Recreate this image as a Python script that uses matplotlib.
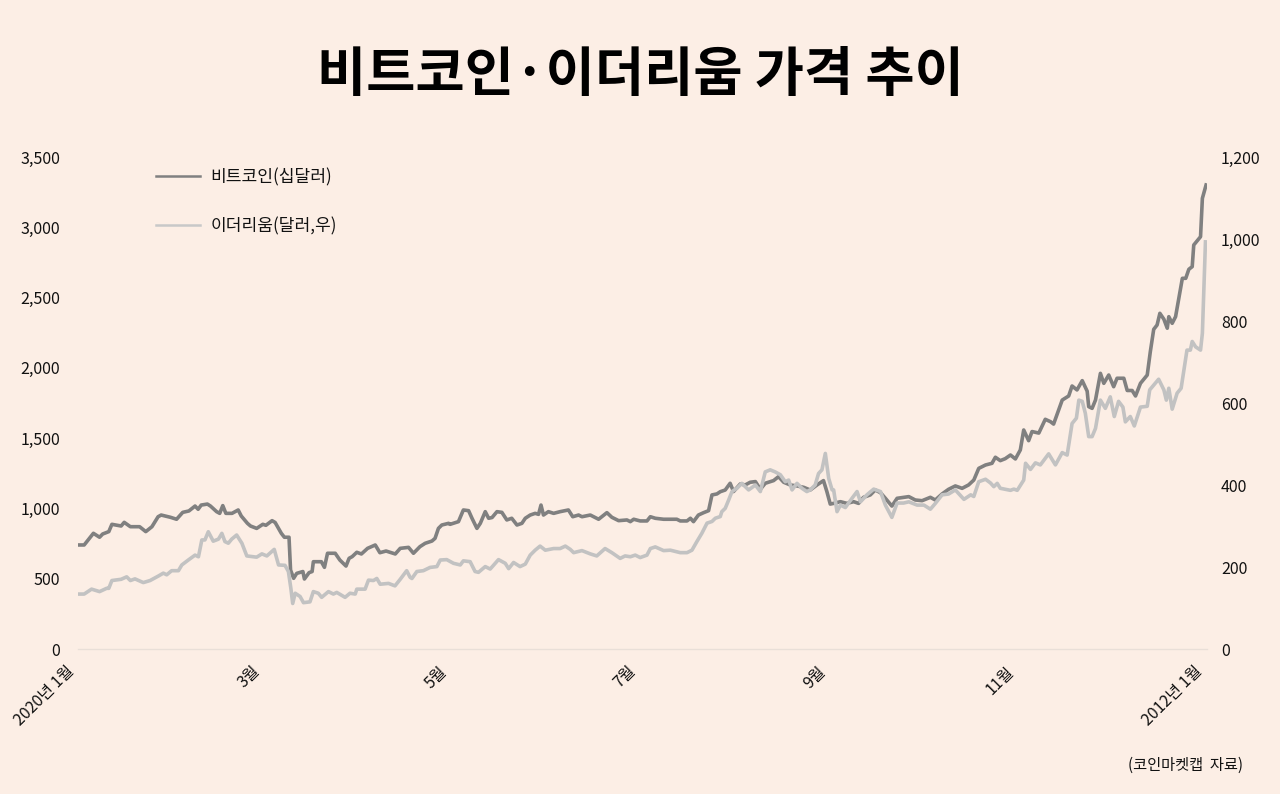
import matplotlib
matplotlib.use("Agg")
import matplotlib.pyplot as plt
from matplotlib.lines import Line2D
from matplotlib.ticker import FuncFormatter, FixedLocator

plt.rcParams['font.family'] = ['Noto Sans CJK KR', 'DejaVu Sans']

# ---------------- data (day offset from 2020-01-01, value) ----------------
btc_days = [0, 2, 5, 7, 8, 10, 11, 14, 15, 17, 20, 22, 24, 26, 27, 30, 32, 34, 36, 38,
            39, 40, 42, 43, 45, 46, 47, 48, 50, 52, 53, 55, 56, 58, 60, 61, 63, 64, 66, 67,
            68.5, 69, 70, 71, 73, 73.5, 75, 76, 76.4, 79, 80, 81, 83.5, 85, 87, 88, 89, 90.5, 92, 94,
            96.5, 98, 100, 103, 104.6, 107.3, 108.9, 111, 112.7, 114.9, 115.9, 117, 118.1, 120.3, 120.8, 123.5, 125.1, 126.8, 127.9, 129.5,
            130.6, 132.2, 133.3, 134.4, 136, 137.6, 139.2, 140.8, 142.5, 144.1, 145.2, 146.8, 148.4, 149.5, 150.3, 151.1, 152.7, 154.4, 156.5, 159.2,
            160.6, 162.5, 163.6, 166.3, 169, 171.7, 173.3, 175.5, 178.2, 179.3, 180.4, 182.5, 184.7, 185.8, 187.4, 190.1, 194.4, 195.5, 197.7, 198.8,
            199.8, 201.4, 203.1, 204.7, 205.8, 207.4, 208.5, 210.1, 211.7, 212.8, 215, 216.6, 218.2, 219.9, 221.5, 223.1, 225.8, 227.4, 229.1, 231.2,
            233.4, 235.6, 237.7, 239.9, 242, 243.1, 244.2, 245.3, 247.5, 249.6, 251.8, 253.4, 255, 257.2, 258.8, 260.5, 262.1, 264.2, 265.9, 268,
            269.7, 271.8, 274, 276.7, 278.3, 280.5, 282.6, 284.8, 287, 289.1, 290.8, 292.4, 294.6, 296.7, 297.8, 299.4, 301, 302.7, 304.3, 305.9,
            307, 308.6, 309.7, 311.9, 314, 315.7, 316.7, 319.5, 321.6, 322.7, 324.3, 326, 327.6, 328.1, 329.2, 330.3, 331.9, 333, 334.6, 336.2,
            337.3, 339.5, 340.6, 342.2, 343.3, 344.9, 347.1, 348.1, 349.2, 350.3, 351.2, 352.5, 353.6, 354.1, 355.2, 356.3, 358.5, 359.6, 360.6, 361.7,
            362.2, 364.4, 365, 366.2]
btc_vals = [740, 740, 823, 795, 818, 835, 887, 875, 901, 870, 870, 835, 870, 941, 953, 937, 923, 972, 982, 1017,
            994, 1024, 1031, 1017, 977, 965, 1020, 965, 965, 989, 946, 894, 875, 858, 887, 880, 913, 900, 823, 795,
            795, 562, 503, 538, 551, 498, 543, 551, 621, 621, 581, 681, 681, 633, 590, 645, 657, 688, 676, 716,
            740, 685, 697, 676, 716, 723, 681, 728, 752, 768, 787, 858, 882, 894, 887, 906, 989, 984, 930, 858,
            894, 977, 930, 935, 977, 972, 918, 930, 882, 894, 930, 953, 965, 958, 1024, 953, 977, 965, 977, 989,
            941, 953, 941, 953, 923, 970, 937, 913, 918, 906, 923, 911, 911, 941, 930, 923, 923, 911, 911, 930,
            906, 953, 970, 984, 1096, 1103, 1119, 1131, 1179, 1120, 1174, 1167, 1186, 1191, 1136, 1179, 1198, 1226, 1186, 1167,
            1160, 1150, 1131, 1167, 1198, 1120, 1031, 1036, 1048, 1036, 1048, 1036, 1079, 1096, 1131, 1112, 1072, 1017, 1072, 1079,
            1084, 1060, 1055, 1079, 1060, 1103, 1136, 1160, 1143, 1167, 1202, 1285, 1309, 1321, 1364, 1340, 1354, 1380, 1352, 1416,
            1558, 1482, 1547, 1536, 1634, 1617, 1600, 1771, 1800, 1871, 1843, 1909, 1834, 1724, 1712, 1771, 1961, 1890, 1949, 1866,
            1926, 1926, 1839, 1839, 1800, 1890, 1949, 2115, 2274, 2305, 2388, 2346, 2282, 2364, 2317, 2364, 2637, 2637, 2701, 2720,
            2874, 2933, 3206, 3301]

eth_days = [0, 2, 4.4, 7, 9.3, 10, 11, 14, 15.8, 17, 18.5, 21.2, 23.4, 26.1, 27.7, 28.8, 30.4, 32.6, 33.7, 35.8,
            38, 39.1, 40.2, 41.2, 42.3, 43.9, 45.6, 46.7, 47.7, 48.8, 49.9, 51.5, 53.2, 54.8, 58, 59.7, 61.3, 63.7, 65.1, 67.2,
            68.3, 69.1, 69.7, 70.5, 72.1, 73.2, 75.3, 76.4, 78, 79.1, 81.3, 82.9, 84, 86.7, 88.3, 90, 90.5, 93.2, 94.3, 95.9,
            97, 98.1, 100.8, 102.9, 104.6, 106.7, 107.8, 108.4, 110, 112.1, 114.3, 116.5, 117.6, 119.7, 121.9, 124.1, 125.1, 127.3, 128.9, 130,
            132.2, 133.8, 136.5, 138.7, 139.8, 141.4, 143.5, 145.2, 146.8, 148.4, 150, 151.7, 154.4, 156.5, 158.2, 159.8, 160.9, 163.6, 166.3, 168.4,
            171.1, 173.3, 176, 177.6, 179.3, 180.9, 182.5, 184.7, 185.8, 187.4, 190.1, 192.3, 195.5, 197.7, 199.3, 200.9, 202.5, 204.2, 205.8, 206.9,
            208.5, 209, 210.1, 211.2, 212.3, 213.9, 215.5, 217.7, 219.9, 221.5, 223.1, 224.7, 226.3, 228, 229.6, 230.7, 231.8, 233.4, 235, 236.6,
            237.7, 239.3, 240.4, 241.5, 242.6, 243.7, 244.8, 245.3, 246.4, 247.5, 249.1, 251.3, 252.9, 254, 256.1, 258.3, 260.5, 262.1, 264.2, 265.9,
            268, 269.7, 272.4, 274.6, 276.7, 278.3, 280.5, 282.6, 284.8, 287.6, 289.8, 290.8, 292.4, 294.6, 296.2, 297.3, 298.4, 299.4, 302.7, 303.8,
            304.9, 307, 307.6, 309.2, 310.8, 312.4, 315.1, 317.3, 319.5, 321.1, 322.7, 324.1, 324.9, 326, 327, 328.1, 329.2, 330.3, 331.9, 333.5,
            335.1, 336.4, 337.8, 339.2, 340, 341.6, 342.9, 344.9, 347.1, 347.9, 350.8, 352.5, 353.3, 354.1, 355.2, 356.8, 358.1, 360, 361.1, 361.7,
            362.8, 364.4, 365, 366]
eth_vals = [134, 134, 146, 140, 148, 148, 167, 170, 176, 167, 171, 162, 167, 178, 185, 181, 191, 191, 205, 217,
            229, 225, 266, 266, 286, 263, 268, 282, 262, 258, 268, 278, 258, 227, 224, 232, 227, 243, 205, 204,
            189, 148, 111, 136, 128, 113, 115, 140, 136, 126, 140, 134, 138, 126, 136, 134, 146, 146, 168, 167,
            172, 158, 160, 154, 170, 191, 175, 172, 189, 191, 199, 201, 217, 218, 209, 205, 215, 213, 189, 187,
            201, 195, 218, 209, 196, 211, 201, 207, 229, 241, 251, 241, 245, 245, 251, 243, 235, 240, 232, 227,
            245, 235, 221, 227, 225, 229, 223, 229, 245, 249, 240, 241, 235, 235, 241, 262, 282, 307, 311, 319,
            323, 335, 343, 363, 384, 392, 404, 388, 400, 384, 432, 437, 432, 425, 408, 412, 388, 404, 392, 384,
            388, 400, 428, 437, 477, 416, 388, 388, 335, 351, 345, 368, 384, 359, 376, 390, 384, 351, 321, 356,
            356, 359, 351, 351, 341, 355, 376, 378, 388, 365, 376, 372, 408, 414, 405, 396, 404, 392, 387, 390,
            387, 412, 453, 438, 454, 449, 476, 449, 479, 473, 550, 563, 607, 604, 575, 518, 518, 538, 607, 587,
            615, 567, 604, 590, 554, 567, 544, 590, 592, 632, 658, 632, 607, 636, 585, 624, 636, 729, 729, 750,
            737, 729, 770, 993]

month_ticks = [0, 60, 121, 182, 244, 305, 366]
month_labels = ['2020년 1월', '3월', '5월', '7월', '9월', '11월', '2012년 1월']
left_ticks = [0, 500, 1000, 1500, 2000, 2500, 3000, 3500]
right_ticks = [0, 200, 400, 600, 800, 1000, 1200]
series_names = ['비트코인(십달러)', '이더리움(달러,우)']

title = '비트코인·이더리움 가격 추이'
source = '(코인마켓캡  자료)'

# ---------------- style ----------------
BG = '#FCEEE5'
C_BTC = '#808080'
C_ETH = '#C2C2C2'

W, H = 1280, 794
fig = plt.figure(figsize=(W / 100, H / 100), dpi=100, facecolor=BG)
ax = fig.add_axes([78 / W, 1 - 649 / H, (1207 - 78) / W, 492 / H])
ax.set_facecolor(BG)
ax2 = ax.twinx()

ax.plot(btc_days, btc_vals, color=C_BTC, lw=2.6, solid_joinstyle='round', zorder=3)
ax2.plot(eth_days, eth_vals, color=C_ETH, lw=2.6, solid_joinstyle='round', zorder=2)

ax.set_xlim(0, 366.5)
ax.set_ylim(0, 3500)
ax2.set_ylim(0, 1200)

fmt = FuncFormatter(lambda v, p: f'{int(v):,}')
ax.yaxis.set_major_locator(FixedLocator(left_ticks))
ax.yaxis.set_major_formatter(fmt)
ax2.yaxis.set_major_locator(FixedLocator(right_ticks))
ax2.yaxis.set_major_formatter(fmt)

ax.set_xticks(month_ticks)
ax.set_xticklabels(month_labels, rotation=45, ha='right', va='top')

for a in (ax, ax2):
    for s in a.spines.values():
        s.set_visible(False)
ax.spines['bottom'].set_visible(True)
ax.spines['bottom'].set_color('#E9DFD8')
ax.spines['bottom'].set_linewidth(1.0)

ax.tick_params(axis='y', length=0, pad=13, labelsize=11.5, labelcolor='#111111')
ax2.tick_params(axis='y', length=0, pad=10, labelsize=11.5, labelcolor='#111111')
ax.tick_params(axis='x', length=0, pad=10, labelsize=11.5, labelcolor='#111111')

handles = [Line2D([], [], color=C_BTC, lw=1.8), Line2D([], [], color='#C8C8C8', lw=1.8)]
leg = fig.legend(handles, series_names, loc='upper left',
                 bbox_to_anchor=(156 / W, 1 - 168 / H), bbox_transform=fig.transFigure,
                 frameon=False, fontsize=12.3, handlelength=2.6, handletextpad=0.6,
                 labelspacing=1.8, borderpad=0, borderaxespad=0)
for t in leg.get_texts():
    t.set_color('#111111')

fig.text(640 / W, 1 - 75 / H, title, ha='center', va='center',
         fontsize=38.5, fontweight='bold', color='#000000')
fig.text(1243 / W, 1 - 765 / H, source, ha='right', va='center',
         fontsize=11, color='#111111')

fig.savefig('out.png', dpi=100, facecolor=BG)
